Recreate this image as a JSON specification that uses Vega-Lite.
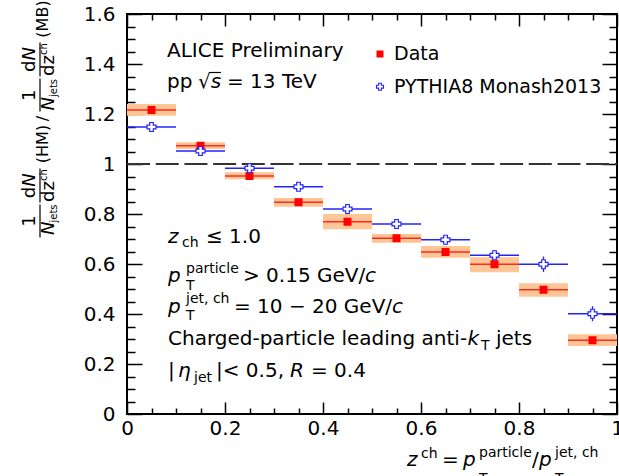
{
  "$schema": "https://vega.github.io/schema/vega-lite/v6.json",
  "width": 490,
  "height": 400,
  "autosize": {"type": "none"},
  "padding": {"left": 127, "top": 14, "right": 2, "bottom": 62},
  "background": "white",
  "datasets": {
    "data": [
      {"z": 0.05, "zlo": 0.0, "zhi": 0.1, "v": 1.216, "lo": 1.193, "hi": 1.240},
      {"z": 0.15, "zlo": 0.1, "zhi": 0.2, "v": 1.073, "lo": 1.060, "hi": 1.087},
      {"z": 0.25, "zlo": 0.2, "zhi": 0.3, "v": 0.952, "lo": 0.939, "hi": 0.967},
      {"z": 0.35, "zlo": 0.3, "zhi": 0.4, "v": 0.847, "lo": 0.829, "hi": 0.864},
      {"z": 0.45, "zlo": 0.4, "zhi": 0.5, "v": 0.769, "lo": 0.739, "hi": 0.800},
      {"z": 0.55, "zlo": 0.5, "zhi": 0.6, "v": 0.703, "lo": 0.685, "hi": 0.720},
      {"z": 0.65, "zlo": 0.6, "zhi": 0.7, "v": 0.648, "lo": 0.625, "hi": 0.672},
      {"z": 0.75, "zlo": 0.7, "zhi": 0.8, "v": 0.599, "lo": 0.567, "hi": 0.627},
      {"z": 0.85, "zlo": 0.8, "zhi": 0.9, "v": 0.497, "lo": 0.469, "hi": 0.523},
      {"z": 0.95, "zlo": 0.9, "zhi": 1.0, "v": 0.295, "lo": 0.272, "hi": 0.319}
    ],
    "pythia": [
      {"z": 0.05, "zlo": 0.0, "zhi": 0.1, "v": 1.148, "lo": 1.143, "hi": 1.153},
      {"z": 0.15, "zlo": 0.1, "zhi": 0.2, "v": 1.052, "lo": 1.047, "hi": 1.057},
      {"z": 0.25, "zlo": 0.2, "zhi": 0.3, "v": 0.983, "lo": 0.977, "hi": 0.989},
      {"z": 0.35, "zlo": 0.3, "zhi": 0.4, "v": 0.909, "lo": 0.903, "hi": 0.915},
      {"z": 0.45, "zlo": 0.4, "zhi": 0.5, "v": 0.820, "lo": 0.814, "hi": 0.826},
      {"z": 0.55, "zlo": 0.5, "zhi": 0.6, "v": 0.760, "lo": 0.753, "hi": 0.767},
      {"z": 0.65, "zlo": 0.6, "zhi": 0.7, "v": 0.697, "lo": 0.688, "hi": 0.706},
      {"z": 0.75, "zlo": 0.7, "zhi": 0.8, "v": 0.635, "lo": 0.615, "hi": 0.655},
      {"z": 0.85, "zlo": 0.8, "zhi": 0.9, "v": 0.599, "lo": 0.568, "hi": 0.630},
      {"z": 0.95, "zlo": 0.9, "zhi": 1.0, "v": 0.401, "lo": 0.371, "hi": 0.431}
    ],
    "one": [{"k": 1}]
  },
  "resolve": {"axis": {"x": "independent", "y": "independent"}},
  "layer": [
    {
      "data": {"name": "data"},
      "mark": {"type": "rect", "fill": "#fec596", "stroke": null},
      "encoding": {
        "x": {"field": "zlo", "type": "quantitative", "scale": {"domain": [0, 1], "nice": false, "zero": false},
              "axis": {"orient": "bottom", "values": [0, 0.2, 0.4, 0.6, 0.8, 1], "tickSize": -12, "labelPadding": 16, "format": "~g", "title": null}},
        "x2": {"field": "zhi"},
        "y": {"field": "lo", "type": "quantitative", "scale": {"domain": [0, 1.6], "nice": false, "zero": false},
              "axis": {"orient": "left", "values": [0, 0.2, 0.4, 0.6, 0.8, 1, 1.2, 1.4, 1.6], "tickSize": -15, "labelPadding": 27, "format": "~g", "title": null}},
        "y2": {"field": "hi"}
      }
    },
    {
      "data": {"name": "pythia"},
      "mark": {"type": "rule", "color": "#2222ff", "strokeWidth": 1.3},
      "encoding": {
        "x": {"field": "zlo", "type": "quantitative",
              "axis": {"orient": "bottom", "values": [0.05, 0.1, 0.15, 0.25, 0.3, 0.35, 0.45, 0.5, 0.55, 0.65, 0.7, 0.75, 0.85, 0.9, 0.95], "tickSize": -6, "labels": false, "title": null}},
        "x2": {"field": "zhi"},
        "y": {"field": "v", "type": "quantitative",
              "axis": {"orient": "left", "values": [0.05, 0.1, 0.15, 0.25, 0.3, 0.35, 0.45, 0.5, 0.55, 0.65, 0.7, 0.75, 0.85, 0.9, 0.95, 1.05, 1.1, 1.15, 1.25, 1.3, 1.35, 1.45, 1.5, 1.55], "tickSize": -8, "labels": false, "title": null}}
      }
    },
    {
      "data": {"name": "pythia"},
      "mark": {"type": "rule", "color": "#2222ff", "strokeWidth": 1.3},
      "encoding": {
        "x": {"field": "z", "type": "quantitative",
              "axis": {"orient": "top", "values": [0, 0.2, 0.4, 0.6, 0.8, 1], "tickSize": -12, "labels": false, "title": null}},
        "y": {"field": "lo", "type": "quantitative",
              "axis": {"orient": "right", "values": [0, 0.2, 0.4, 0.6, 0.8, 1, 1.2, 1.4, 1.6], "tickSize": -15, "labels": false, "title": null}},
        "y2": {"field": "hi"}
      }
    },
    {
      "data": {"name": "data"},
      "mark": {"type": "rule", "color": "#ff2a1a", "strokeWidth": 1.3},
      "encoding": {
        "x": {"field": "zlo", "type": "quantitative",
              "axis": {"orient": "top", "values": [0.05, 0.1, 0.15, 0.25, 0.3, 0.35, 0.45, 0.5, 0.55, 0.65, 0.7, 0.75, 0.85, 0.9, 0.95], "tickSize": -6, "labels": false, "title": null}},
        "x2": {"field": "zhi"},
        "y": {"field": "v", "type": "quantitative",
              "axis": {"orient": "right", "values": [0.05, 0.1, 0.15, 0.25, 0.3, 0.35, 0.45, 0.5, 0.55, 0.65, 0.7, 0.75, 0.85, 0.9, 0.95, 1.05, 1.1, 1.15, 1.25, 1.3, 1.35, 1.45, 1.5, 1.55], "tickSize": -8, "labels": false, "title": null}}
      }
    },
    {
      "data": {"name": "one"},
      "mark": {"type": "rule", "color": "#333333", "strokeWidth": 2, "strokeDash": [23, 5.7]},
      "encoding": {"x": {"datum": 0, "axis": null}, "x2": {"datum": 1}, "y": {"datum": 1, "axis": null}}
    },
    {
      "data": {"name": "data"},
      "mark": {"type": "point", "shape": "square", "filled": true, "color": "#ff0000", "size": 64, "opacity": 1},
      "encoding": {"x": {"field": "z", "type": "quantitative", "axis": null}, "y": {"field": "v", "type": "quantitative", "axis": null}}
    },
    {
      "data": {"name": "pythia"},
      "mark": {"type": "point", "shape": "cross", "fill": "white", "stroke": "#2222ff", "strokeWidth": 1.2, "size": 81, "opacity": 1},
      "encoding": {"x": {"field": "z", "type": "quantitative", "axis": null}, "y": {"field": "v", "type": "quantitative", "axis": null}}
    },
    {
      "data": {"name": "one"},
      "mark": {"type": "point", "shape": "square", "filled": true, "color": "#ff0000", "size": 49, "opacity": 1},
      "encoding": {"x": {"datum": 0.5163, "axis": null}, "y": {"datum": 1.44, "axis": null}}
    },
    {
      "data": {"name": "one"},
      "mark": {"type": "point", "shape": "cross", "fill": "white", "stroke": "#2222ff", "strokeWidth": 1.1, "size": 49, "opacity": 1},
      "encoding": {"x": {"datum": 0.5163, "axis": null}, "y": {"datum": 1.3092, "axis": null}}
    },
    {"data": {"name": "one"}, "mark": {"type": "text", "fontSize": 19},
     "encoding": {"x": {"datum": 0.5449, "axis": null}, "y": {"datum": 1.416, "axis": null}, "text": {"value": "Data"}}},
    {"data": {"name": "one"}, "mark": {"type": "text", "fontSize": 19},
     "encoding": {"x": {"datum": 0.5449, "axis": null}, "y": {"datum": 1.284, "axis": null}, "text": {"value": "PYTHIA8 Monash2013"}}},

    {"data": {"name": "one"}, "mark": {"type": "text"},
     "encoding": {"x": {"datum": 0.08163, "axis": null}, "y": {"datum": 1.4292, "axis": null}, "text": {"value": "ALICE Preliminary"}}},
    {"data": {"name": "one"}, "mark": {"type": "text"},
     "encoding": {"x": {"datum": 0.08163, "axis": null}, "y": {"datum": 1.3028, "axis": null}, "text": {"value": "pp"}}},
    {"data": {"name": "one"}, "mark": {"type": "text"},
     "encoding": {"x": {"datum": 0.14490, "axis": null}, "y": {"datum": 1.3028, "axis": null}, "text": {"value": "√"}}},
    {"data": {"name": "one"}, "mark": {"type": "text", "fontStyle": "italic"},
     "encoding": {"x": {"datum": 0.17082, "axis": null}, "y": {"datum": 1.3028, "axis": null}, "text": {"value": "s"}}},
    {"data": {"name": "one"}, "mark": {"type": "rule", "color": "black", "strokeWidth": 1.2},
     "encoding": {"x": {"datum": 0.1694, "axis": null}, "x2": {"datum": 0.1918}, "y": {"datum": 1.366, "axis": null}}},
    {"data": {"name": "one"}, "mark": {"type": "text"},
     "encoding": {"x": {"datum": 0.20408, "axis": null}, "y": {"datum": 1.3028, "axis": null}, "text": {"value": "= 13 TeV"}}},

    {"data": {"name": "one"}, "mark": {"type": "text", "fontStyle": "italic"},
     "encoding": {"x": {"datum": 0.08367, "axis": null}, "y": {"datum": 0.6852, "axis": null}, "text": {"value": "z"}}},
    {"data": {"name": "one"}, "mark": {"type": "text", "fontSize": 14},
     "encoding": {"x": {"datum": 0.11224, "axis": null}, "y": {"datum": 0.668, "axis": null}, "text": {"value": "ch"}}},
    {"data": {"name": "one"}, "mark": {"type": "text"},
     "encoding": {"x": {"datum": 0.16122, "axis": null}, "y": {"datum": 0.6852, "axis": null}, "text": {"value": "≤ 1.0"}}},

    {"data": {"name": "one"}, "mark": {"type": "text", "fontStyle": "italic"},
     "encoding": {"x": {"datum": 0.08367, "axis": null}, "y": {"datum": 0.528, "axis": null}, "text": {"value": "p"}}},
    {"data": {"name": "one"}, "mark": {"type": "text", "fontSize": 14},
     "encoding": {"x": {"datum": 0.12041, "axis": null}, "y": {"datum": 0.5652, "axis": null}, "text": {"value": "particle"}}},
    {"data": {"name": "one"}, "mark": {"type": "text", "fontSize": 14},
     "encoding": {"x": {"datum": 0.12041, "axis": null}, "y": {"datum": 0.496, "axis": null}, "text": {"value": "T"}}},
    {"data": {"name": "one"}, "mark": {"type": "text"},
     "encoding": {"x": {"datum": 0.23673, "axis": null}, "y": {"datum": 0.528, "axis": null}, "text": {"value": "> 0.15 GeV/"}}},
    {"data": {"name": "one"}, "mark": {"type": "text", "fontStyle": "italic"},
     "encoding": {"x": {"datum": 0.48571, "axis": null}, "y": {"datum": 0.528, "axis": null}, "text": {"value": "c"}}},

    {"data": {"name": "one"}, "mark": {"type": "text", "fontStyle": "italic"},
     "encoding": {"x": {"datum": 0.08367, "axis": null}, "y": {"datum": 0.4028, "axis": null}, "text": {"value": "p"}}},
    {"data": {"name": "one"}, "mark": {"type": "text", "fontSize": 14},
     "encoding": {"x": {"datum": 0.12041, "axis": null}, "y": {"datum": 0.444, "axis": null}, "text": {"value": "jet, ch"}}},
    {"data": {"name": "one"}, "mark": {"type": "text", "fontSize": 14},
     "encoding": {"x": {"datum": 0.12041, "axis": null}, "y": {"datum": 0.376, "axis": null}, "text": {"value": "T"}}},
    {"data": {"name": "one"}, "mark": {"type": "text"},
     "encoding": {"x": {"datum": 0.21837, "axis": null}, "y": {"datum": 0.4028, "axis": null}, "text": {"value": "= 10 − 20 GeV/"}}},
    {"data": {"name": "one"}, "mark": {"type": "text", "fontStyle": "italic"},
     "encoding": {"x": {"datum": 0.54082, "axis": null}, "y": {"datum": 0.4028, "axis": null}, "text": {"value": "c"}}},

    {"data": {"name": "one"}, "mark": {"type": "text"},
     "encoding": {"x": {"datum": 0.08367, "axis": null}, "y": {"datum": 0.276, "axis": null}, "text": {"value": "Charged-particle leading anti-"}}},
    {"data": {"name": "one"}, "mark": {"type": "text", "fontStyle": "italic"},
     "encoding": {"x": {"datum": 0.6949, "axis": null}, "y": {"datum": 0.276, "axis": null}, "text": {"value": "k"}}},
    {"data": {"name": "one"}, "mark": {"type": "text", "fontSize": 14},
     "encoding": {"x": {"datum": 0.72245, "axis": null}, "y": {"datum": 0.256, "axis": null}, "text": {"value": "T"}}},
    {"data": {"name": "one"}, "mark": {"type": "text"},
     "encoding": {"x": {"datum": 0.75306, "axis": null}, "y": {"datum": 0.276, "axis": null}, "text": {"value": "jets"}}},

    {"data": {"name": "one"}, "mark": {"type": "text"},
     "encoding": {"x": {"datum": 0.08367, "axis": null}, "y": {"datum": 0.1492, "axis": null}, "text": {"value": "|"}}},
    {"data": {"name": "one"}, "mark": {"type": "text", "fontStyle": "italic"},
     "encoding": {"x": {"datum": 0.10408, "axis": null}, "y": {"datum": 0.1492, "axis": null}, "text": {"value": "η"}}},
    {"data": {"name": "one"}, "mark": {"type": "text", "fontSize": 14},
     "encoding": {"x": {"datum": 0.13673, "axis": null}, "y": {"datum": 0.128, "axis": null}, "text": {"value": "jet"}}},
    {"data": {"name": "one"}, "mark": {"type": "text"},
     "encoding": {"x": {"datum": 0.18163, "axis": null}, "y": {"datum": 0.1492, "axis": null}, "text": {"value": "|< 0.5,"}}},
    {"data": {"name": "one"}, "mark": {"type": "text", "fontStyle": "italic"},
     "encoding": {"x": {"datum": 0.33265, "axis": null}, "y": {"datum": 0.1492, "axis": null}, "text": {"value": "R"}}},
    {"data": {"name": "one"}, "mark": {"type": "text"},
     "encoding": {"x": {"datum": 0.37551, "axis": null}, "y": {"datum": 0.1492, "axis": null}, "text": {"value": "= 0.4"}}},

    {"data": {"name": "one"}, "mark": {"type": "text", "fontStyle": "italic"},
     "encoding": {"x": {"datum": 0.57143, "axis": null}, "y": {"datum": -0.208, "axis": null}, "text": {"value": "z"}}},
    {"data": {"name": "one"}, "mark": {"type": "text", "fontSize": 14},
     "encoding": {"x": {"datum": 0.6, "axis": null}, "y": {"datum": -0.176, "axis": null}, "text": {"value": "ch"}}},
    {"data": {"name": "one"}, "mark": {"type": "text"},
     "encoding": {"x": {"datum": 0.64286, "axis": null}, "y": {"datum": -0.208, "axis": null}, "text": {"value": "="}}},
    {"data": {"name": "one"}, "mark": {"type": "text", "fontStyle": "italic"},
     "encoding": {"x": {"datum": 0.68571, "axis": null}, "y": {"datum": -0.208, "axis": null}, "text": {"value": "p"}}},
    {"data": {"name": "one"}, "mark": {"type": "text", "fontSize": 14},
     "encoding": {"x": {"datum": 0.71837, "axis": null}, "y": {"datum": -0.172, "axis": null}, "text": {"value": "particle"}}},
    {"data": {"name": "one"}, "mark": {"type": "text", "fontSize": 14},
     "encoding": {"x": {"datum": 0.71837, "axis": null}, "y": {"datum": -0.276, "axis": null}, "text": {"value": "T"}}},
    {"data": {"name": "one"}, "mark": {"type": "text"},
     "encoding": {"x": {"datum": 0.82653, "axis": null}, "y": {"datum": -0.208, "axis": null}, "text": {"value": "/"}}},
    {"data": {"name": "one"}, "mark": {"type": "text", "fontStyle": "italic"},
     "encoding": {"x": {"datum": 0.84082, "axis": null}, "y": {"datum": -0.208, "axis": null}, "text": {"value": "p"}}},
    {"data": {"name": "one"}, "mark": {"type": "text", "fontSize": 14},
     "encoding": {"x": {"datum": 0.87347, "axis": null}, "y": {"datum": -0.172, "axis": null}, "text": {"value": "jet, ch"}}},
    {"data": {"name": "one"}, "mark": {"type": "text", "fontSize": 14},
     "encoding": {"x": {"datum": 0.87347, "axis": null}, "y": {"datum": -0.276, "axis": null}, "text": {"value": "T"}}},

    {"data": {"name": "one"}, "mark": {"type": "text", "angle": 270, "align": "center", "baseline": "middle", "fontSize": 18},
     "encoding": {"x": {"datum": -0.19796, "axis": null}, "y": {"datum": 0.772, "axis": null}, "text": {"value": "1"}}},
    {"data": {"name": "one"}, "mark": {"type": "rule", "color": "black", "strokeWidth": 1.2},
     "encoding": {"x": {"datum": -0.17755, "axis": null}, "y": {"datum": 0.706, "axis": null}, "y2": {"datum": 0.838}}},
    {"data": {"name": "one"}, "mark": {"type": "text", "angle": 270, "align": "center", "baseline": "middle", "fontSize": 18, "fontStyle": "italic"},
     "encoding": {"x": {"datum": -0.15918, "axis": null}, "y": {"datum": 0.7428, "axis": null}, "text": {"value": "N"}}},
    {"data": {"name": "one"}, "mark": {"type": "text", "angle": 270, "align": "center", "baseline": "middle", "fontSize": 10},
     "encoding": {"x": {"datum": -0.14898, "axis": null}, "y": {"datum": 0.802, "axis": null}, "text": {"value": "jets"}}},
    {"data": {"name": "one"}, "mark": {"type": "text", "angle": 270, "align": "center", "baseline": "middle", "fontSize": 18},
     "encoding": {"x": {"datum": -0.19796, "axis": null}, "y": {"datum": 0.886, "axis": null}, "text": {"value": "d"}}},
    {"data": {"name": "one"}, "mark": {"type": "text", "angle": 270, "align": "center", "baseline": "middle", "fontSize": 18, "fontStyle": "italic"},
     "encoding": {"x": {"datum": -0.19796, "axis": null}, "y": {"datum": 0.936, "axis": null}, "text": {"value": "N"}}},
    {"data": {"name": "one"}, "mark": {"type": "rule", "color": "black", "strokeWidth": 1.2},
     "encoding": {"x": {"datum": -0.17755, "axis": null}, "y": {"datum": 0.846, "axis": null}, "y2": {"datum": 0.982}}},
    {"data": {"name": "one"}, "mark": {"type": "text", "angle": 270, "align": "center", "baseline": "middle", "fontSize": 18},
     "encoding": {"x": {"datum": -0.15918, "axis": null}, "y": {"datum": 0.89, "axis": null}, "text": {"value": "dz"}}},
    {"data": {"name": "one"}, "mark": {"type": "text", "angle": 270, "align": "center", "baseline": "middle", "fontSize": 10},
     "encoding": {"x": {"datum": -0.16837, "axis": null}, "y": {"datum": 0.9552, "axis": null}, "text": {"value": "ch"}}},
    {"data": {"name": "one"}, "mark": {"type": "text", "angle": 270, "align": "center", "baseline": "middle", "fontSize": 16},
     "encoding": {"x": {"datum": -0.17143, "axis": null}, "y": {"datum": 1.08, "axis": null}, "text": {"value": "(HM)"}}},
    {"data": {"name": "one"}, "mark": {"type": "text", "angle": 270, "align": "center", "baseline": "middle", "fontSize": 16},
     "encoding": {"x": {"datum": -0.17143, "axis": null}, "y": {"datum": 1.182, "axis": null}, "text": {"value": "/"}}},
    {"data": {"name": "one"}, "mark": {"type": "text", "angle": 270, "align": "center", "baseline": "middle", "fontSize": 18},
     "encoding": {"x": {"datum": -0.19796, "axis": null}, "y": {"datum": 1.275, "axis": null}, "text": {"value": "1"}}},
    {"data": {"name": "one"}, "mark": {"type": "rule", "color": "black", "strokeWidth": 1.2},
     "encoding": {"x": {"datum": -0.17755, "axis": null}, "y": {"datum": 1.21, "axis": null}, "y2": {"datum": 1.342}}},
    {"data": {"name": "one"}, "mark": {"type": "text", "angle": 270, "align": "center", "baseline": "middle", "fontSize": 18, "fontStyle": "italic"},
     "encoding": {"x": {"datum": -0.15918, "axis": null}, "y": {"datum": 1.2408, "axis": null}, "text": {"value": "N"}}},
    {"data": {"name": "one"}, "mark": {"type": "text", "angle": 270, "align": "center", "baseline": "middle", "fontSize": 10},
     "encoding": {"x": {"datum": -0.14898, "axis": null}, "y": {"datum": 1.304, "axis": null}, "text": {"value": "jets"}}},
    {"data": {"name": "one"}, "mark": {"type": "text", "angle": 270, "align": "center", "baseline": "middle", "fontSize": 18},
     "encoding": {"x": {"datum": -0.19796, "axis": null}, "y": {"datum": 1.3912, "axis": null}, "text": {"value": "d"}}},
    {"data": {"name": "one"}, "mark": {"type": "text", "angle": 270, "align": "center", "baseline": "middle", "fontSize": 18, "fontStyle": "italic"},
     "encoding": {"x": {"datum": -0.19796, "axis": null}, "y": {"datum": 1.4408, "axis": null}, "text": {"value": "N"}}},
    {"data": {"name": "one"}, "mark": {"type": "rule", "color": "black", "strokeWidth": 1.2},
     "encoding": {"x": {"datum": -0.17755, "axis": null}, "y": {"datum": 1.35, "axis": null}, "y2": {"datum": 1.486}}},
    {"data": {"name": "one"}, "mark": {"type": "text", "angle": 270, "align": "center", "baseline": "middle", "fontSize": 18},
     "encoding": {"x": {"datum": -0.15918, "axis": null}, "y": {"datum": 1.394, "axis": null}, "text": {"value": "dz"}}},
    {"data": {"name": "one"}, "mark": {"type": "text", "angle": 270, "align": "center", "baseline": "middle", "fontSize": 10},
     "encoding": {"x": {"datum": -0.16837, "axis": null}, "y": {"datum": 1.4592, "axis": null}, "text": {"value": "ch"}}},
    {"data": {"name": "one"}, "mark": {"type": "text", "angle": 270, "align": "center", "baseline": "middle", "fontSize": 16},
     "encoding": {"x": {"datum": -0.17143, "axis": null}, "y": {"datum": 1.58, "axis": null}, "text": {"value": "(MB)"}}}
  ],
  "config": {
    "view": {"stroke": "black", "strokeWidth": 2},
    "font": "DejaVu Sans",
    "text": {"font": "DejaVu Sans", "fontSize": 20, "align": "left", "baseline": "alphabetic", "color": "black"},
    "axis": {
      "domain": false, "grid": false, "tickColor": "black", "tickWidth": 1.5,
      "labelFont": "DejaVu Sans", "labelFontSize": 20, "labelColor": "black",
      "labelFlush": false, "labelOverlap": false, "labelBound": false
    }
  }
}
